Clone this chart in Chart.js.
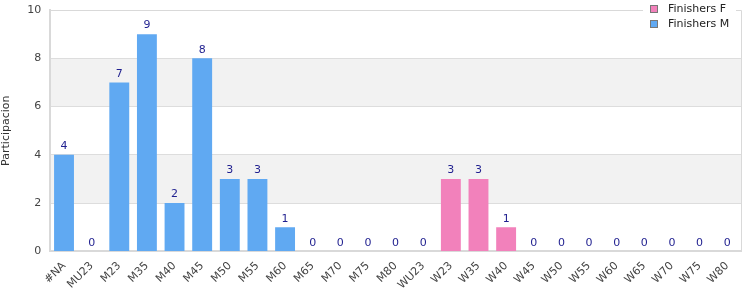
<!DOCTYPE html>
<html>
<head>
<meta charset="utf-8">
<script src="https://cdn.jsdelivr.net/npm/chart.js@4.4.1/dist/chart.umd.min.js"></script>
<style>
  html, body { margin: 0; padding: 0; background: #fff; }
  #wrap { width: 750px; height: 300px; }
</style>
</head>
<body>
<div id="wrap"><canvas id="chart" width="750" height="300"></canvas></div>
<script>
// Chart data
const categories = ['#NA', 'MU23', 'M23', 'M35', 'M40', 'M45', 'M50', 'M55', 'M60', 'M65', 'M70', 'M75', 'M80',
  'WU23', 'W23', 'W35', 'W40', 'W45', 'W50', 'W55', 'W60', 'W65', 'W70', 'W75', 'W80'];
const finishersF = [null, null, null, null, null, null, null, null, null, null, null, null, null,
  0, 3, 3, 1, 0, 0, 0, 0, 0, 0, 0, 0];
const finishersM = [4, 0, 7, 9, 2, 8, 3, 3, 1, 0, 0, 0, 0,
  null, null, null, null, null, null, null, null, null, null, null, null];
const yTicks = [0, 2, 4, 6, 8, 10];

const FONT = "'DejaVu Sans', Verdana, sans-serif";

// Alternating background bands behind the bars
const bandPlugin = {
  id: 'bands',
  beforeDraw(chart) {
    const { ctx, chartArea, scales } = chart;
    const y = scales.y;
    ctx.save();
    ctx.fillStyle = '#f2f2f2';
    for (let i = 1; i < yTicks.length - 1; i += 2) {
      const top = y.getPixelForValue(yTicks[i + 1]);
      const bottom = y.getPixelForValue(yTicks[i]);
      ctx.fillRect(chartArea.left, top, chartArea.right - chartArea.left, bottom - top);
    }
    ctx.restore();
  }
};

// Value labels above each stack, plus the top/right plot frame
const totalsPlugin = {
  id: 'totals',
  afterDatasetsDraw(chart) {
    const { ctx, scales, chartArea } = chart;
    ctx.save();
    ctx.strokeStyle = '#d9d9d9';
    ctx.lineWidth = 1;
    ctx.beginPath();
    ctx.moveTo(chartArea.left, chartArea.top + 0.5);
    ctx.lineTo(chartArea.right + 0.5, chartArea.top + 0.5);
    ctx.lineTo(chartArea.right + 0.5, chartArea.bottom);
    ctx.stroke();
    ctx.font = '11px ' + FONT;
    ctx.fillStyle = '#1f1f8f';
    ctx.textAlign = 'center';
    ctx.textBaseline = 'bottom';
    categories.forEach((c, i) => {
      const total = (finishersF[i] || 0) + (finishersM[i] || 0);
      const x = scales.x.getPixelForValue(i);
      const y = scales.y.getPixelForValue(total);
      ctx.fillText(String(total), x, y - 3);
    });
    ctx.restore();
  }
};

// Legend drawn in the top right corner over the plot border
const legendPlugin = {
  id: 'boxLegend',
  afterDraw(chart) {
    const { ctx, chartArea } = chart;
    const x0 = chartArea.right - 98;
    ctx.save();
    ctx.fillStyle = '#fff';
    ctx.fillRect(x0, 0, 93, 30);
    ctx.font = '11px ' + FONT;
    ctx.textBaseline = 'middle';
    chart.data.datasets.forEach((ds, i) => {
      const cy = 9 + i * 15;
      ctx.fillStyle = ds.backgroundColor;
      ctx.fillRect(x0 + 7.5, cy - 3.5, 7, 7);
      ctx.strokeStyle = '#777';
      ctx.lineWidth = 1;
      ctx.strokeRect(x0 + 7.5, cy - 3.5, 7, 7);
      ctx.fillStyle = '#222';
      ctx.fillText(ds.label, x0 + 25, cy);
    });
    ctx.restore();
  }
};

new Chart(document.getElementById('chart').getContext('2d'), {
  type: 'bar',
  data: {
    labels: categories,
    datasets: [
      { label: 'Finishers F', data: finishersF, backgroundColor: '#f281bb', borderWidth: 0, barPercentage: 0.72, categoryPercentage: 1 },
      { label: 'Finishers M', data: finishersM, backgroundColor: '#60a9f2', borderWidth: 0, barPercentage: 0.72, categoryPercentage: 1 }
    ]
  },
  options: {
    responsive: false,
    animation: false,
    layout: { padding: { top: 0, right: 9, left: 0, bottom: 8 } },
    plugins: {
      legend: { display: false },
      tooltip: { enabled: false }
    },
    scales: {
      x: {
        stacked: true,
        grid: { display: false },
        border: { color: '#d9d9d9', width: 2 },
        ticks: {
          color: '#444',
          font: { family: FONT, size: 11 },
          minRotation: 45,
          maxRotation: 45,
          autoSkip: false,
          padding: 0
        }
      },
      y: {
        stacked: true,
        min: 0,
        max: 10,
        afterBuildTicks(axis) {
          axis.ticks = yTicks.map(v => ({ value: v }));
        },
        afterFit(axis) {
          axis.paddingTop = 10;
        },
        grid: { color: '#dddddd', drawTicks: false },
        border: { color: '#d9d9d9', width: 2 },
        ticks: { color: '#444', font: { family: FONT, size: 11 }, padding: 9 },
        title: {
          display: true,
          text: 'Participacion',
          color: '#333',
          font: { family: FONT, size: 11 },
          padding: { top: 0, bottom: 5 }
        }
      }
    }
  },
  plugins: [bandPlugin, totalsPlugin, legendPlugin]
});
</script>
</body>
</html>
